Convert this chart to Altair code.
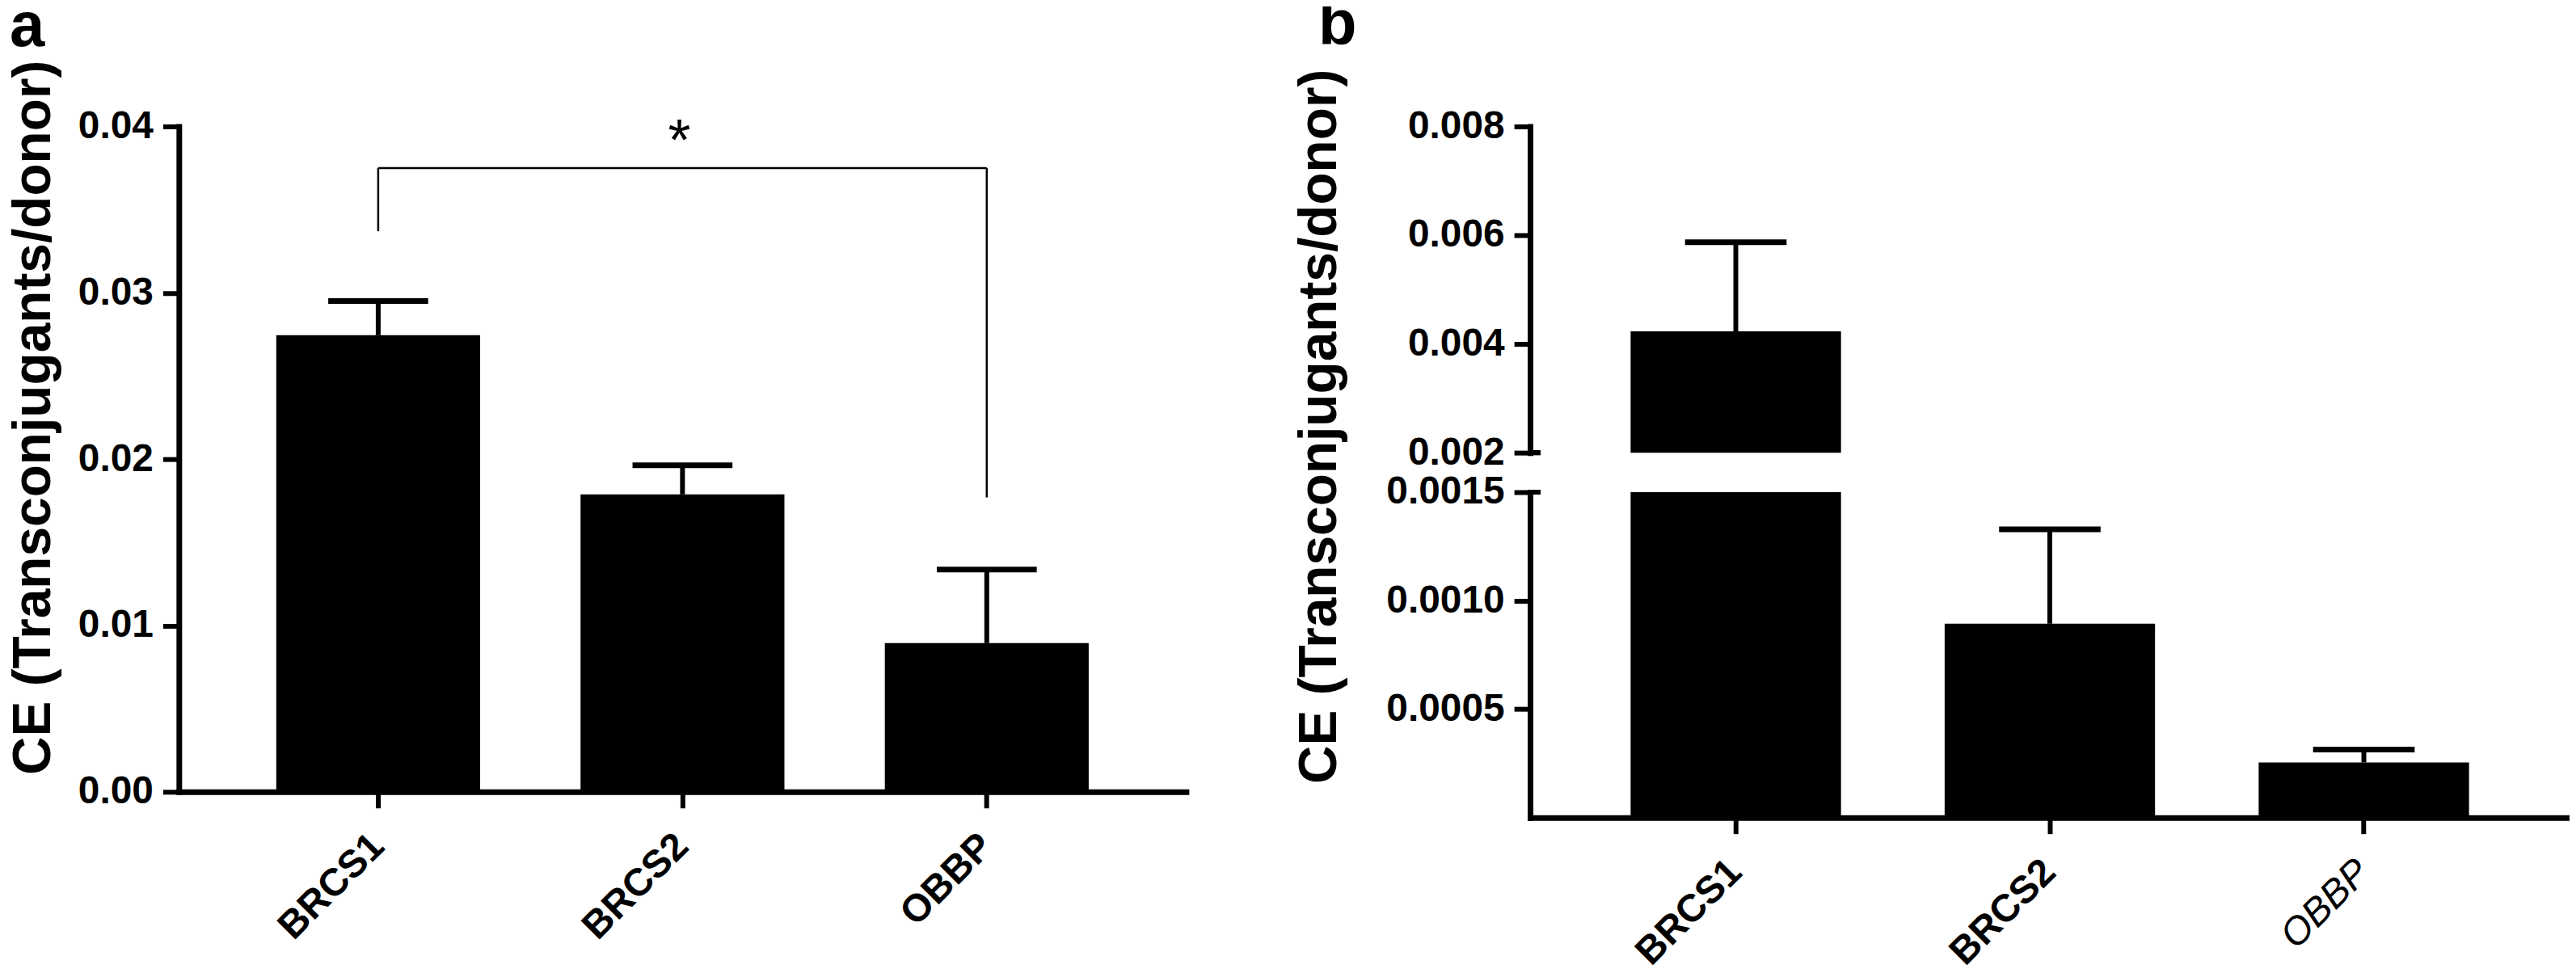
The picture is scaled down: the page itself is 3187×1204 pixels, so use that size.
import altair as alt
import pandas as pd

# ---------------- data ----------------
categories = ["BRCS1", "BRCS2", "OBBP"]
a_mean = [0.02745, 0.01788, 0.00894]
a_upper = [0.02950, 0.01963, 0.01336]
b_mean = [0.00423, 0.000894, 0.000254]
b_upper = [0.00587, 0.001329, 0.000314]

a_ticks = [0.0, 0.01, 0.02, 0.03, 0.04]
b_top_ticks = [0.002, 0.004, 0.006, 0.008]
b_bottom_ticks = [0.0005, 0.0010, 0.0015]

sig_from, sig_to = "BRCS1", "OBBP"
sig_level = 0.0375
sig_leg_cats = ["BRCS1", "OBBP"]
sig_leg_low = [0.0337, 0.0177]
sig_star_cat = ["BRCS2"]
sig_star_level = [0.0380]

y_title = "CE (Transconjugants/donor)"
FONT = "Liberation Sans"

df_a = pd.DataFrame({"cat": categories, "mean": a_mean, "upper": a_upper})
df_b = pd.DataFrame({"cat": categories, "mean": b_mean, "upper": b_upper})
df_br_h = pd.DataFrame({"c1": [sig_from], "c2": [sig_to], "lvl": [sig_level]})
df_br_v = pd.DataFrame({"cat": sig_leg_cats, "lo": sig_leg_low,
                        "hi": [sig_level] * len(sig_leg_cats)})
df_star = pd.DataFrame({"cat": sig_star_cat, "lvl": sig_star_level})

xscale = alt.Scale(domain=categories, paddingInner=0.33, paddingOuter=0.32)

x_axis_a = alt.Axis(labelAngle=-45, labelAlign="right", labelBaseline="middle",
                    labelFontSize=48, labelFontWeight="bold", labelPadding=40,
                    tickSize=20, tickWidth=6, domainWidth=7, domainCap="square",
                    labelOverlap=False)
x_axis_b = alt.Axis(labelAngle=-45, labelAlign="right", labelBaseline="middle",
                    labelFontSize=48,
                    labelFontWeight={"condition": {"test": "datum.value === 'OBBP'", "value": "normal"}, "value": "bold"},
                    labelFontStyle={"condition": {"test": "datum.value === 'OBBP'", "value": "italic"}, "value": "normal"},
                    labelPadding=40, tickSize=20, tickWidth=6, domainWidth=7,
                    domainCap="square", labelOverlap=False)


def xenc(field, axis):
    return alt.X(field, type="nominal", scale=xscale, axis=axis, title=None)


def make_yenc(domain, values, fmt, title, title_x=None, title_y=None):
    ax_kwargs = dict(values=values, format=fmt, labelFontSize=48, labelFontWeight="bold",
                     labelPadding=12, tickSize=20, tickWidth=6, domainWidth=7,
                     domainCap="square", labelOverlap=False)
    if title is not None:
        ax_kwargs.update(titleFontSize=66, titleFontWeight="bold",
                         titleX=title_x, titleY=title_y)
    axis = alt.Axis(**ax_kwargs)
    scale = alt.Scale(domain=domain, nice=False, zero=False)

    def yenc(field):
        return alt.Y(field, type="quantitative", scale=scale, axis=axis,
                     title=title if title is not None else None)
    return yenc


# ---------------- panel a ----------------
ya = make_yenc([0, 0.04], a_ticks, ".2f", y_title, -146, 361)
base_a = alt.Chart(df_a)
bars_a = base_a.mark_bar(color="black").encode(x=xenc("cat", x_axis_a), y=ya("mean"))
stem_a = base_a.mark_rule(color="black", strokeWidth=6).encode(
    x=xenc("cat", x_axis_a), y=ya("mean"), y2="upper:Q")
cap_a = base_a.mark_tick(color="black", thickness=7, size=124, opacity=1).encode(
    x=xenc("cat", x_axis_a), y=ya("upper"))
br_h = alt.Chart(df_br_h).mark_rule(color="black", strokeWidth=2.5).encode(
    x=xenc("c1", x_axis_a), x2="c2:N", y=ya("lvl"))
br_v = alt.Chart(df_br_v).mark_rule(color="black", strokeWidth=2.5).encode(
    x=xenc("cat", x_axis_a), y=ya("lo"), y2="hi:Q")
star = alt.Chart(df_star).mark_text(text="*", fontSize=72, baseline="alphabetic",
                                    font=FONT, color="black", dx=-4).encode(
    x=xenc("cat", x_axis_a), y=ya("lvl"))

panel_a = alt.layer(bars_a, stem_a, cap_a, br_h, br_v, star).properties(
    width=1250, height=826,
    title=alt.TitleParams("a", anchor="start", frame="group", fontSize=78,
                          fontWeight="bold", font=FONT, dx=-210, baseline="alphabetic",
                          offset=0, dy=61))

# ---------------- panel b (broken axis) ----------------
yt = make_yenc([0.002, 0.008], b_top_ticks, ".3f", y_title, -227, 372)
base_bt = alt.Chart(df_b)
bars_bt = base_bt.mark_bar(color="black", clip=True).encode(
    x=xenc("cat", None), y=yt("mean"))
stem_bt = base_bt.mark_rule(color="black", strokeWidth=6, clip=True).encode(
    x=xenc("cat", None), y=yt("mean"), y2="upper:Q")
cap_bt = base_bt.mark_tick(color="black", thickness=7, size=126, opacity=1, clip=True).encode(
    x=xenc("cat", None), y=yt("upper"))
brk_t = alt.Chart(df_b).mark_rule(color="black", strokeWidth=6).encode(
    y=alt.datum(0.002), x=alt.value(0), x2=alt.value(13))
top_b = alt.layer(bars_bt, stem_bt, cap_bt, brk_t).properties(width=1290, height=405)

yb = make_yenc([0, 0.0015], b_bottom_ticks, ".4f", None)
base_bb = alt.Chart(df_b)
bars_bb = base_bb.mark_bar(color="black", clip=True).encode(
    x=xenc("cat", x_axis_b), y=yb("mean"))
stem_bb = base_bb.mark_rule(color="black", strokeWidth=6, clip=True).encode(
    x=xenc("cat", x_axis_b), y=yb("mean"), y2="upper:Q")
cap_bb = base_bb.mark_tick(color="black", thickness=7, size=126, opacity=1, clip=True).encode(
    x=xenc("cat", x_axis_b), y=yb("upper"))
brk_b = alt.Chart(df_b).mark_rule(color="black", strokeWidth=6).encode(
    y=alt.datum(0.0015), x=alt.value(0), x2=alt.value(13))
bottom_b = alt.layer(bars_bb, stem_bb, cap_bb, brk_b).properties(width=1290, height=404)

panel_b = alt.vconcat(top_b, bottom_b, spacing=49, bounds="flush").properties(
    title=alt.TitleParams("b", anchor="start", frame="group", fontSize=78,
                          fontWeight="bold", font=FONT, dx=-263, baseline="alphabetic",
                          offset=0, dy=48))

chart = alt.hconcat(panel_a, panel_b, spacing=427, bounds="flush").properties(
    padding={"left": 0, "top": -17, "right": 0, "bottom": 0}
).configure_view(stroke=None).configure_axis(
    grid=False, labelFont=FONT, titleFont=FONT, domainColor="black",
    tickColor="black", labelColor="black", titleColor="black"
).configure_title(font=FONT, color="black")

chart.save("out.html", embed_options={"renderer": "svg", "actions": False})
